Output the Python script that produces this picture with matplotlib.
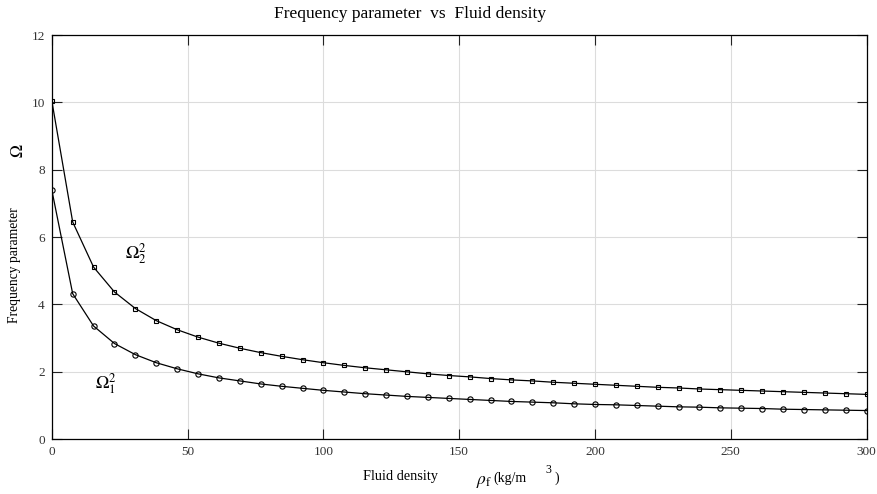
import matplotlib
matplotlib.use('Agg')
from matplotlib import pyplot as plt

plt.rcParams['font.family'] = ['Liberation Serif', 'DejaVu Serif']
plt.rcParams['mathtext.fontset'] = 'stix'

# fluid density (kg/m^3)
rho = [0.0, 7.69, 15.38, 23.08, 30.77, 38.46, 46.15, 53.85, 61.54, 69.23,
       76.92, 84.62, 92.31, 100.0, 107.69, 115.38, 123.08, 130.77, 138.46, 146.15,
       153.85, 161.54, 169.23, 176.92, 184.62, 192.31, 200.0, 207.69, 215.38, 223.08,
       230.77, 238.46, 246.15, 253.85, 261.54, 269.23, 276.92, 284.62, 292.31, 300.0]

# first mode (circles)
omega1 = [7.40, 4.32, 3.36, 2.84, 2.51, 2.27, 2.09, 1.94, 1.82, 1.73,
          1.64, 1.57, 1.51, 1.45, 1.40, 1.35, 1.31, 1.27, 1.24, 1.21,
          1.18, 1.15, 1.12, 1.10, 1.08, 1.05, 1.03, 1.02, 1.00, 0.98,
          0.96, 0.95, 0.93, 0.92, 0.91, 0.89, 0.88, 0.87, 0.86, 0.85]

# second mode (squares)
omega2 = [10.05, 6.45, 5.11, 4.37, 3.88, 3.52, 3.25, 3.03, 2.85, 2.70,
          2.57, 2.46, 2.36, 2.27, 2.19, 2.12, 2.06, 2.00, 1.94, 1.89,
          1.85, 1.80, 1.76, 1.73, 1.69, 1.66, 1.63, 1.60, 1.57, 1.54,
          1.52, 1.49, 1.47, 1.45, 1.43, 1.41, 1.39, 1.37, 1.35, 1.33]

xticks = [0, 50, 100, 150, 200, 250, 300]
yticks = [0, 2, 4, 6, 8, 10, 12]

fig = plt.figure(figsize=(8.78, 4.94), dpi=100)
ax = fig.add_axes([0.059, 0.111, 0.928, 0.818])

ax.plot(rho, omega1, color='black', lw=0.9, marker='o', ms=3.8,
        mfc='none', mec='black', mew=0.8)
ax.plot(rho, omega2, color='black', lw=0.9, marker='s', ms=3.2,
        mfc='none', mec='black', mew=0.8)

ax.set_xlim(0, 300)
ax.set_ylim(0, 12)
ax.set_xticks(xticks)
ax.set_yticks(yticks)
ax.grid(True, color='#dcdcdc', lw=0.8)
ax.set_axisbelow(True)
ax.tick_params(direction='in', length=7, width=0.8, top=True, right=True,
               labelsize=9.5, labelcolor='#333333', color='#222222', pad=5)
for s in ax.spines.values():
    s.set_linewidth(0.9)

ax.text(31, 5.5, r'$\Omega_2^2$', fontsize=13, ha='center', va='center')
ax.text(20, 1.65, r'$\Omega_1^2$', fontsize=13, ha='center', va='center')

fig.text(410 / 878, 1 - 14 / 494, 'Frequency parameter  vs  Fluid density',
         fontsize=12.5, ha='center', va='center')
fig.text(15 / 878, 1 - 265 / 494, 'Frequency parameter', fontsize=9.8,
         rotation=90, ha='center', va='center')
fig.text(19 / 878, 1 - 151 / 494, r'$\Omega$', fontsize=12.5,
         rotation=90, ha='center', va='center')
fig.text(400 / 878, 1 - 476 / 494, 'Fluid density', fontsize=10.3,
         ha='center', va='center')
fig.text(484 / 878, 1 - 482 / 494, r'$\rho_{\mathrm{f}}$', fontsize=12.5,
         ha='center', va='center')
fig.text(510 / 878, 1 - 478 / 494, '(kg/m', fontsize=10, ha='center', va='center')
fig.text(548 / 878, 1 - 470 / 494, '3', fontsize=8.5, ha='center', va='center')
fig.text(557 / 878, 1 - 478 / 494, ')', fontsize=10, ha='center', va='center')

fig.savefig('out.png', dpi=100)
